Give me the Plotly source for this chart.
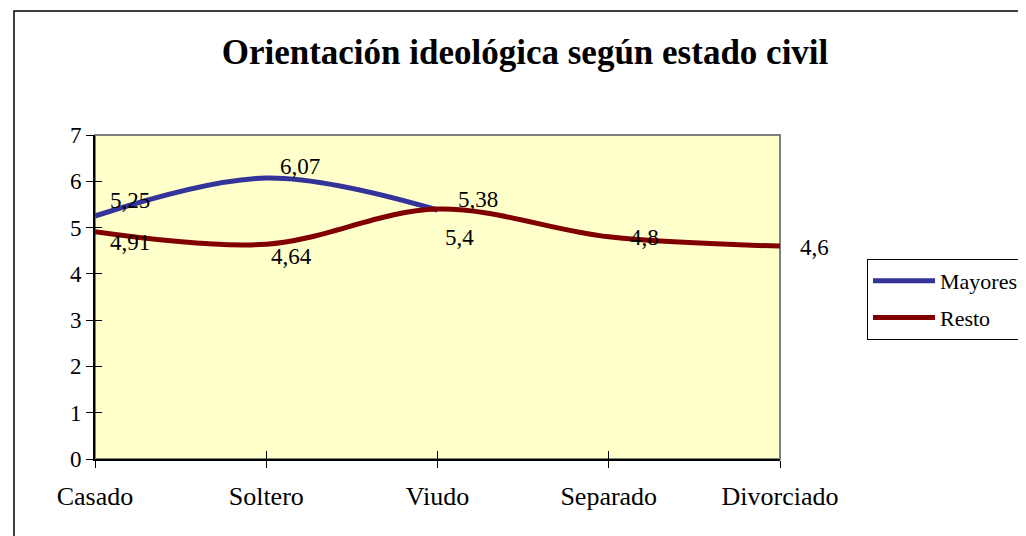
import plotly.graph_objects as go

categories = ["Casado", "Soltero", "Viudo", "Separado", "Divorciado"]
mayores = [5.25, 6.07, 5.38]
resto = [4.91, 4.64, 5.4, 4.8, 4.6]
y_ticks = [0, 1, 2, 3, 4, 5, 6, 7]

title_text = "Orientación ideológica según estado civil"

BLUE = "#333399"
RED = "#800000"
FONT = "Liberation Serif"

# label placement (pixel offsets from each point: dx, dy upward)
may_off = [(13, 16), (12, 12), (18, 10)]
res_off = [(13, -11), (3, -12), (5, -28), (19, -1), (18, -1)]

fig = go.Figure()
fig.add_trace(go.Scatter(x=categories[:len(mayores)], y=mayores, name="Mayores", legendgroup="a",
                         mode="lines", line=dict(color=BLUE, width=5, shape="spline", smoothing=1)))
fig.add_trace(go.Scatter(x=categories, y=resto, name="Resto", legendgroup="b",
                         mode="lines", line=dict(color=RED, width=5, shape="spline", smoothing=1)))

# invisible overlay axes for crossing ticks
fig.add_trace(go.Scatter(x=categories, y=resto, xaxis="x2", yaxis="y2", showlegend=False,
                         mode="lines", line=dict(width=0), hoverinfo="skip", opacity=0))

def fmt(v):
    return str(v).replace(".", ",")

for cat, v, (dx, dy) in zip(categories, mayores, may_off):
    fig.add_annotation(x=cat, y=v, text=fmt(v), showarrow=False, xanchor="left", yanchor="middle",
                       xshift=dx, yshift=dy, font=dict(family=FONT, size=23, color="black"))
for cat, v, (dx, dy) in zip(categories, resto, res_off):
    fig.add_annotation(x=cat, y=v, text=fmt(v), showarrow=False, xanchor="left", yanchor="middle",
                       xshift=dx, yshift=dy, font=dict(family=FONT, size=23, color="black"))

W, H = 1018, 528
L, T = 87, 127
PW, PH = 685, 324

fig.update_layout(
    width=W, height=H,
    margin=dict(l=L, r=W - L - PW, t=T, b=H - T - PH, autoexpand=False),
    paper_bgcolor="white", plot_bgcolor="#FFFFCC",
    font=dict(family=FONT, color="black", size=22),
    title=dict(text="<b>" + title_text + "</b>", x=(525 - 95) / PW, xref="paper", xanchor="center",
               y=1 - 44 / H, yanchor="middle", font=dict(family=FONT, size=35, color="black")),
    xaxis=dict(type="category", categoryorder="array", categoryarray=categories,
               range=[0, len(categories) - 1], showline=True, linecolor="black", linewidth=2,
               ticks="outside", ticklen=7, tickwidth=1, tickcolor="black", showgrid=False,
               zeroline=False, ticklabelstandoff=6, tickfont=dict(size=26), automargin=False),
    yaxis=dict(range=[0, 7], tickvals=y_ticks, showline=True, linecolor="black", linewidth=2,
               ticks="outside", ticklen=7, tickwidth=1, tickcolor="black", showgrid=False,
               zeroline=False, ticklabelstandoff=0, tickfont=dict(size=23), automargin=False),
    xaxis2=dict(type="category", categoryorder="array", categoryarray=categories,
                range=[0, len(categories) - 1], overlaying="x", side="bottom", ticks="inside",
                ticklen=8, tickwidth=1, tickcolor="black", showticklabels=False, showgrid=False,
                zeroline=False, showline=False),
    yaxis2=dict(range=[0, 7], tickvals=y_ticks, overlaying="y", side="left", ticks="inside",
                ticklen=7, tickwidth=1, tickcolor="black", showticklabels=False, showgrid=False,
                zeroline=False, showline=False),
    legend=dict(x=(867 - 95) / PW, y=(459 - 259) / PH, xanchor="left", yanchor="top",
                bgcolor="white", bordercolor="black", borderwidth=1, itemwidth=62,
                font=dict(family=FONT, size=22, color="black"), tracegroupgap=5),
    shapes=[
        dict(type="rect", xref="paper", yref="paper", x0=0, x1=1, y0=0, y1=1,
             line=dict(color="#808080", width=2), layer="below"),
        dict(type="rect", xref="paper", yref="paper", x0=(14 - 95) / PW, x1=1.6,
             y0=-0.5, y1=(459 - 11) / PH, line=dict(color="black", width=1.5), layer="below"),
    ],
    showlegend=True,
)

fig.write_html("out.html")
